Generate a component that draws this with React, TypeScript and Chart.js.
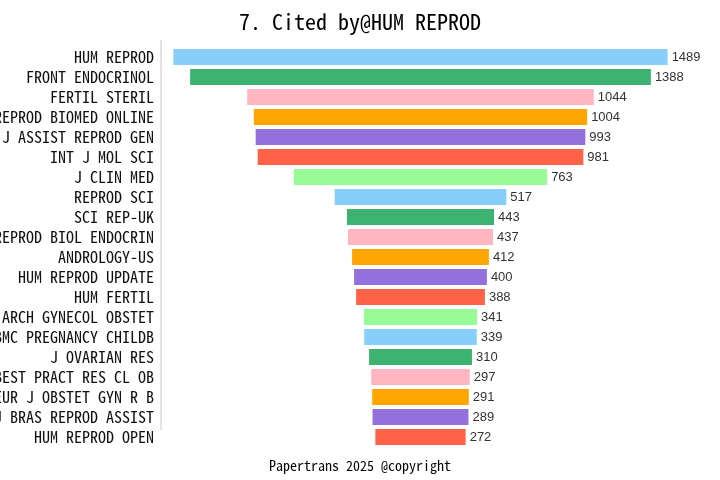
import React, { useEffect, useRef } from "react";
import { Chart, registerables } from "chart.js";

Chart.register(...registerables);

const journals = [
  "HUM REPROD",
  "FRONT ENDOCRINOL",
  "FERTIL STERIL",
  "REPROD BIOMED ONLINE",
  "J ASSIST REPROD GEN",
  "INT J MOL SCI",
  "J CLIN MED",
  "REPROD SCI",
  "SCI REP-UK",
  "REPROD BIOL ENDOCRIN",
  "ANDROLOGY-US",
  "HUM REPROD UPDATE",
  "HUM FERTIL",
  "ARCH GYNECOL OBSTET",
  "BMC PREGNANCY CHILDB",
  "J OVARIAN RES",
  "BEST PRACT RES CL OB",
  "EUR J OBSTET GYN R B",
  "J BRAS REPROD ASSIST",
  "HUM REPROD OPEN",
];

const citations = [1489, 1388, 1044, 1004, 993, 981, 763, 517, 443, 437, 412, 400, 388, 341, 339, 310, 297, 291, 289, 272];

const barColors = ["#87CEFA", "#3CB371", "#FFB6C1", "#FFA500", "#9370DB", "#FF6347", "#98FB98"];

const titleText = "7. Cited by@HUM REPROD";
const footerText = "Papertrans 2025 @copyright";

const MONO = '"Noto Sans Mono CJK SC", "DejaVu Sans Mono", monospace';
const NUMFONT = '"Liberation Sans Narrow", "Liberation Sans", sans-serif';

export default function App() {
  const ref = useRef<HTMLCanvasElement | null>(null);

  useEffect(() => {
    document.body.style.margin = "0";
    const canvas = ref.current;
    if (!canvas) return;
    const maxVal = Math.max(...citations);
    const half = (maxVal * 1.05) / 2;

    const decor = {
      id: "decor",
      afterDatasetsDraw(chart: any) {
        const ctx = chart.ctx;
        const meta = chart.getDatasetMeta(0);
        const xs = chart.scales.x;
        ctx.save();
        ctx.font = `13px ${NUMFONT}`;
        ctx.fillStyle = "#333";
        ctx.textAlign = "left";
        ctx.textBaseline = "middle";
        meta.data.forEach((bar: any, i: number) => {
          const x = xs.getPixelForValue(citations[i] / 2) + 4;
          ctx.fillText(String(citations[i]), x, bar.y);
        });
        ctx.restore();
      },
      afterDraw(chart: any) {
        const ctx = chart.ctx;
        const area = chart.chartArea;
        ctx.save();
        ctx.strokeStyle = "#d9d9d9";
        ctx.lineWidth = 1.5;
        ctx.beginPath();
        ctx.moveTo(area.left, 40);
        ctx.lineTo(area.left, 430);
        ctx.stroke();
        ctx.fillStyle = "#000";
        ctx.textAlign = "center";
        ctx.textBaseline = "middle";
        ctx.font = `22px ${MONO}`;
        ctx.fillText(titleText, 360, 22);
        ctx.font = `14px ${MONO}`;
        ctx.fillText(footerText, 360, 466);
        ctx.restore();
      },
    };

    const chart = new Chart(canvas, {
      type: "bar",
      data: {
        labels: journals,
        datasets: [
          {
            data: citations.map((v) => [-v / 2, v / 2]) as any,
            backgroundColor: citations.map((_, i) => barColors[i % barColors.length]),
            barPercentage: 0.8,
            categoryPercentage: 1,
            borderWidth: 0,
          },
        ],
      },
      options: {
        indexAxis: "y",
        animation: false,
        responsive: false,
        layout: { padding: { top: 47, bottom: 33, right: 40, left: 0 } },
        plugins: { legend: { display: false }, tooltip: { enabled: false }, title: { display: false } },
        scales: {
          x: { display: false, min: -half, max: half },
          y: {
            grid: { display: false, drawTicks: false },
            border: { display: false },
            ticks: { autoSkip: false, padding: 7, color: "#111", font: { family: MONO, size: 16 } },
            afterFit(scale: any) {
              scale.width = 161;
            },
          },
        },
      },
      plugins: [decor],
    });
    return () => chart.destroy();
  }, []);

  return <canvas ref={ref} width={720} height={480} style={{ display: "block" }} />;
}
